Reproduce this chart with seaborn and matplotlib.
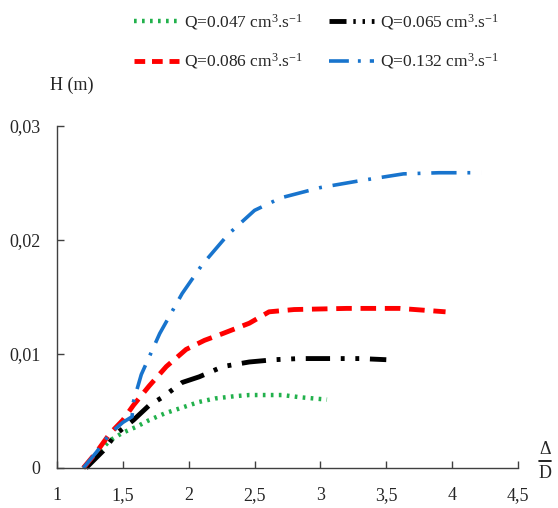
import numpy as np
import pandas as pd
import matplotlib
matplotlib.use("Agg")
import matplotlib.pyplot as plt
from matplotlib.lines import Line2D
from matplotlib.ticker import FixedLocator
import seaborn as sns

# ---------------------------------------------------------------------------
# data (x = Delta/D, y = H in m)
# ---------------------------------------------------------------------------
x_047 = [1.20, 1.30, 1.40, 1.50, 1.60, 1.70, 1.82, 1.95, 2.08, 2.20, 2.35, 2.46, 2.60, 2.71, 2.85, 3.05]
h_047 = [0.0, 0.0012, 0.0024, 0.0031, 0.0036, 0.0042, 0.0048, 0.0053, 0.0058, 0.0061, 0.0063, 0.0064, 0.0064, 0.0064, 0.0062, 0.0060]

x_065 = [1.22, 1.35, 1.45, 1.58, 1.70, 1.80, 1.95, 2.08, 2.26, 2.46, 2.65, 2.84, 3.10, 3.30, 3.50]
h_065 = [0.0, 0.0015, 0.0030, 0.0042, 0.0055, 0.0062, 0.0075, 0.0080, 0.0089, 0.0093, 0.0095, 0.0096, 0.0096, 0.0096, 0.0095]

x_086 = [1.20, 1.30, 1.40, 1.50, 1.58, 1.70, 1.83, 1.98, 2.12, 2.26, 2.46, 2.61, 2.80, 3.20, 3.60, 3.95]
h_086 = [0.0, 0.0014, 0.0030, 0.0042, 0.0055, 0.0072, 0.0089, 0.0104, 0.0112, 0.0118, 0.0127, 0.0137, 0.0139, 0.0140, 0.0140, 0.0137]

x_132 = [1.20, 1.30, 1.40, 1.50, 1.57, 1.58, 1.64, 1.78, 1.95, 2.10, 2.30, 2.50, 2.70, 3.00, 3.30, 3.63, 3.90, 4.22]
h_132 = [0.0, 0.0014, 0.0030, 0.0040, 0.0045, 0.0058, 0.0082, 0.0118, 0.0153, 0.0178, 0.0205, 0.0226, 0.0237, 0.0246, 0.0252, 0.0258, 0.0259, 0.0259]

labels = [r"Q=0.047 cm$^{3}$.s$^{-1}$", r"Q=0.065 cm$^{3}$.s$^{-1}$",
          r"Q=0.086 cm$^{3}$.s$^{-1}$", r"Q=0.132 cm$^{3}$.s$^{-1}$"]

x_ticks = [1, 1.5, 2, 2.5, 3, 3.5, 4, 4.5]
x_ticklabels = ["1", "1,5", "2", "2,5", "3", "3,5", "4", "4,5"]
y_ticks = [0, 0.01, 0.02, 0.03]
y_ticklabels = ["0", "0,01", "0,02", "0,03"]

# ---------------------------------------------------------------------------
sns.set_style("ticks")
plt.rcParams["font.family"] = ["Liberation Serif", "DejaVu Serif"]
plt.rcParams["mathtext.fontset"] = "custom"
plt.rcParams["mathtext.rm"] = "Liberation Serif"
plt.rcParams["mathtext.it"] = "Liberation Serif:italic"

fig = plt.figure(figsize=(5.58, 5.08), dpi=100)
ax = fig.add_axes([57 / 558, 40 / 508, 461 / 558, 342 / 508])

# colour, line dashes, legend-handle dashes, width
styles = [
    ("#22b14c", (0, (0.6, 1.2)), (0, (0.6, 1.2)), 3.2),
    ("#000000", (0, (5, 2.2, 0.8, 2.2, 0.8, 2.2)), (0, (3.5, 1.4, 0.5, 1.4, 0.5, 1.4)), 3.5),
    ("#ff0000", (0, (3.2, 1.8)), (0, (2.2, 1.4)), 3.5),
    ("#1874cd", (0, (7, 3, 0.8, 3)), (0, (5.5, 2.5, 0.8, 2.5)), 2.6),
]
series = [(x_047, h_047), (x_065, h_065), (x_086, h_086), (x_132, h_132)]

handles = []
for (xs, hs), (col, ls, hls, lw) in zip(series, styles):
    df = pd.DataFrame({"x": xs, "h": hs})
    sns.lineplot(data=df, x="x", y="h", ax=ax, color=col, linestyle=ls,
                 linewidth=lw, estimator=None, sort=False, clip_on=False)
    handles.append(Line2D([], [], color=col, linestyle=hls, linewidth=lw))

ax.set_xlim(1, 4.5)
ax.set_ylim(0, 0.03)
ax.xaxis.set_major_locator(FixedLocator(x_ticks))
ax.yaxis.set_major_locator(FixedLocator(y_ticks))
ax.set_xticklabels(x_ticklabels)
ax.set_yticklabels(y_ticklabels)
ax.set_xlabel("")
ax.set_ylabel("")
ax.tick_params(axis="both", direction="in", length=5, width=1, labelsize=13,
               color="#404040")
ax.tick_params(axis="x", pad=14)
ax.tick_params(axis="y", pad=12)
sns.despine(ax=ax)
for s in ["left", "bottom"]:
    ax.spines[s].set_color("#404040")
    ax.spines[s].set_linewidth(1)

# axis titles
fig.text(50 / 558, 1 - 85 / 508, "H (m)", fontsize=13, ha="left", va="center")
fig.text(545 / 558, 1 - 449 / 508, "\u0394", fontsize=13, ha="center", va="center")
fig.text(545 / 558, 1 - 474 / 508, "D", fontsize=13, ha="center", va="center")
fig.add_artist(Line2D([539 / 558, 551 / 558], [1 - 461 / 508, 1 - 461 / 508],
                      color="black", linewidth=1.2))

# legend, column-wise fill: green/red, black/blue
order = [0, 2, 1, 3]
fig.legend([handles[i] for i in order], [labels[i] for i in order],
           ncol=2, loc="upper left", bbox_to_anchor=(118 / 558, 1 + 4 / 508),
           frameon=False, fontsize=12.5, handlelength=2.6, handletextpad=0.3,
           columnspacing=1.5, labelspacing=1.15)

fig.savefig("out.png", dpi=100)
